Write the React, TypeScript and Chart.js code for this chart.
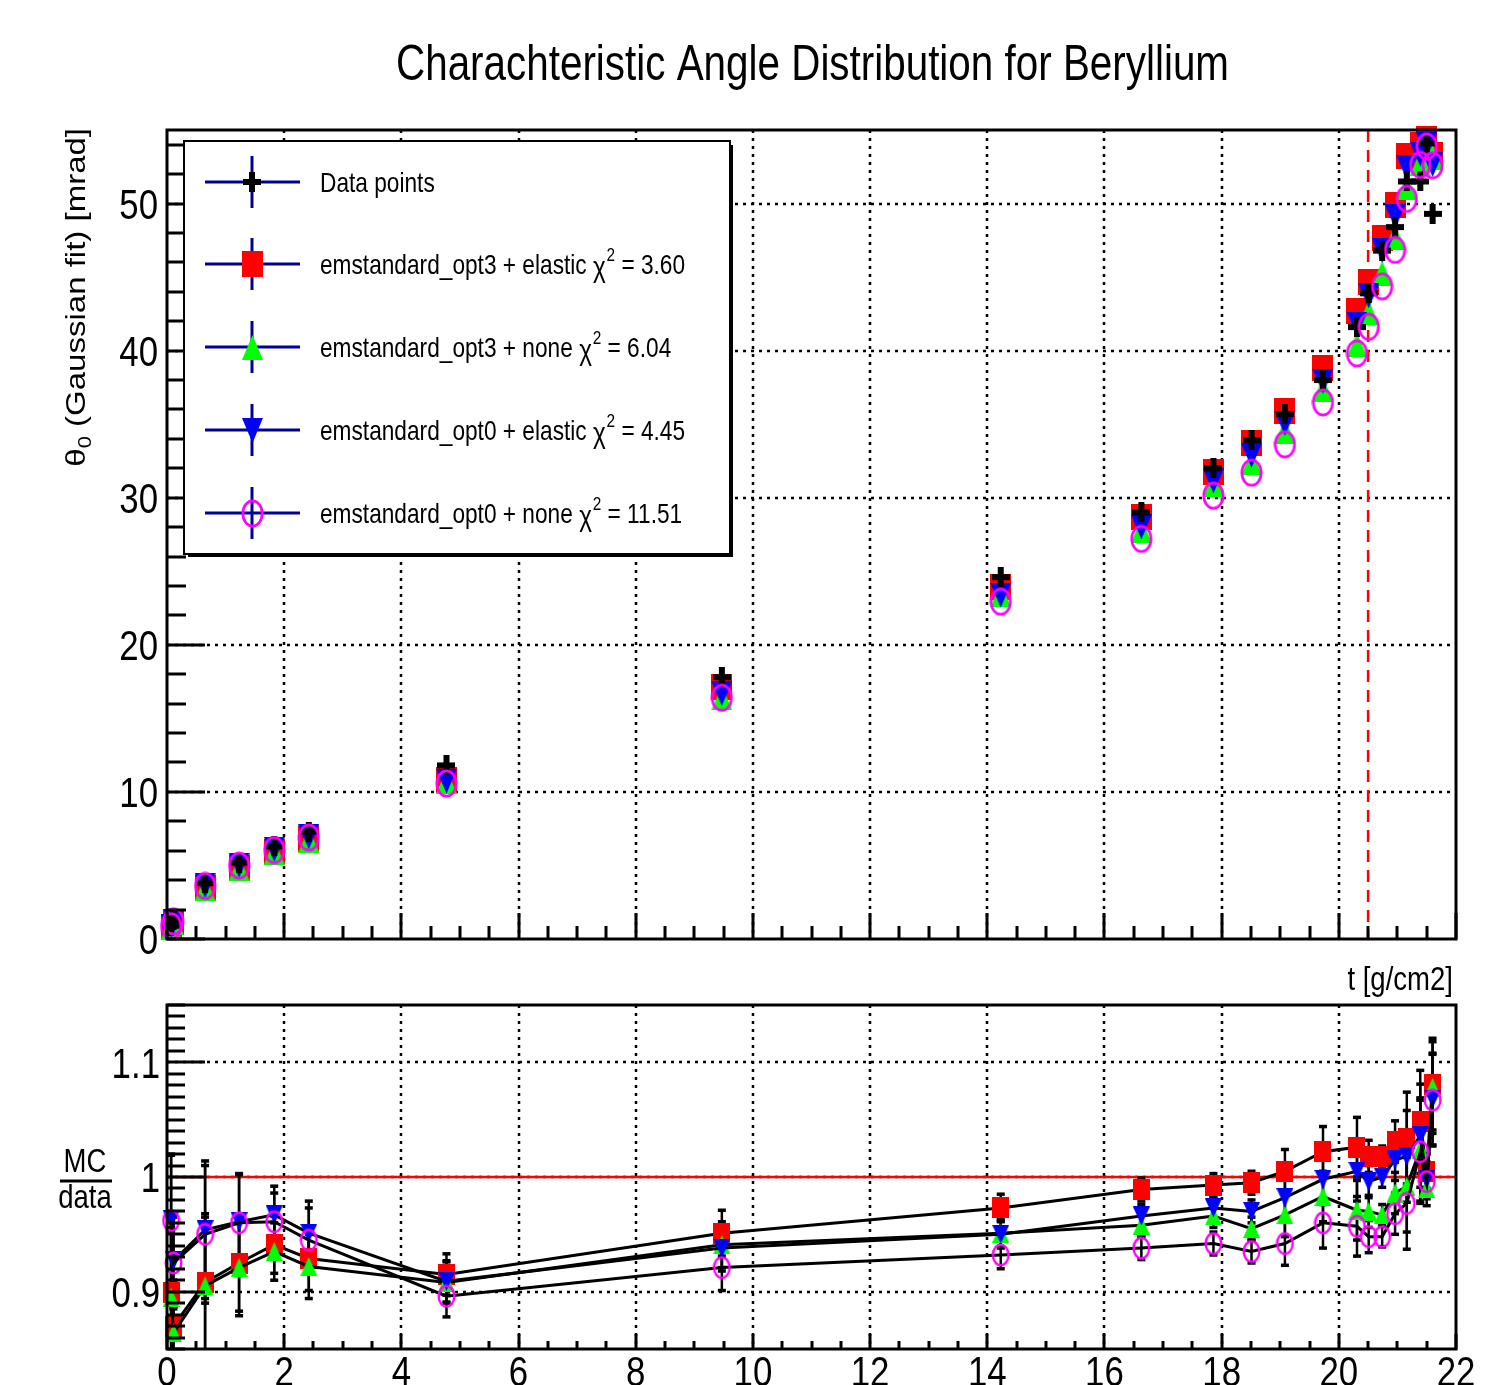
import { useEffect, useRef } from "react";
import { Chart, registerables } from "chart.js";

Chart.register(...registerables);

const FONT = '"Liberation Sans", Arial, Helvetica, sans-serif';
const SX = 0.81;

// thickness t [g/cm2]
const T = [0.07, 0.11, 0.65, 1.23, 1.83, 2.42, 4.77, 9.47, 14.23, 16.63, 17.86, 18.51, 19.08, 19.73, 20.31, 20.51, 20.74, 20.96, 21.16, 21.39, 21.5, 21.6];
// theta_0 (Gaussian fit) [mrad]
const DATA_POINTS = [0.9, 1.3, 3.8, 5.2, 6.3, 7.3, 11.8, 17.8, 24.6, 29.0, 32.0, 33.9, 35.7, 38.0, 41.6, 43.9, 46.8, 48.4, 51.5, 51.5, 54.1, 49.3];
const OPT3_ELASTIC = [0.81, 1.13, 3.45, 4.81, 5.93, 6.78, 10.8, 17.1, 23.94, 28.68, 31.78, 33.73, 35.88, 38.84, 42.68, 44.69, 47.64, 49.9, 53.25, 53.97, 54.37, 53.29];
const OPT3_NONE = [0.81, 1.12, 3.44, 4.79, 5.89, 6.73, 10.71, 16.4, 23.39, 27.78, 30.91, 32.37, 34.52, 37.35, 40.39, 42.58, 45.26, 47.72, 51.09, 52.74, 53.56, 53.15];
const OPT0_ELASTIC = [0.87, 1.21, 3.63, 5.0, 6.09, 6.94, 10.73, 16.7, 23.37, 28.01, 31.14, 32.88, 35.06, 37.92, 41.81, 43.72, 46.8, 49.13, 52.43, 53.35, 53.99, 52.65];
const OPT0_NONE = [0.87, 1.2, 3.61, 4.99, 6.05, 6.9, 10.57, 16.4, 22.93, 27.2, 30.14, 31.7, 33.63, 36.48, 39.81, 41.62, 44.37, 46.85, 50.32, 52.63, 53.88, 52.6];

// MC / data
const R_OPT3_ELASTIC = [0.899, 0.87, 0.908, 0.925, 0.941, 0.929, 0.915, 0.951, 0.973, 0.989, 0.993, 0.995, 1.005, 1.022, 1.026, 1.018, 1.018, 1.031, 1.034, 1.048, 1.005, 1.081];
const R_OPT3_NONE = [0.895, 0.864, 0.905, 0.921, 0.935, 0.922, 0.908, 0.941, 0.951, 0.958, 0.966, 0.955, 0.967, 0.983, 0.971, 0.97, 0.967, 0.986, 0.992, 1.024, 0.99, 1.078];
const R_OPT0_ELASTIC = [0.963, 0.927, 0.954, 0.961, 0.967, 0.951, 0.909, 0.938, 0.95, 0.966, 0.973, 0.97, 0.982, 0.998, 1.005, 0.996, 1.0, 1.015, 1.018, 1.036, 0.998, 1.068];
const R_OPT0_NONE = [0.962, 0.925, 0.95, 0.96, 0.961, 0.945, 0.896, 0.921, 0.932, 0.938, 0.942, 0.935, 0.942, 0.96, 0.957, 0.948, 0.948, 0.968, 0.977, 1.022, 0.996, 1.067];
const R_ERR = [0.057, 0.04, 0.06, 0.042, 0.025, 0.028, 0.018, 0.02, 0.012, 0.01, 0.01, 0.01, 0.019, 0.022, 0.026, 0.014, 0.009, 0.018, 0.04, 0.045, 0.015, 0.04];

const TITLE = "Charachteristic Angle Distribution for Beryllium";
const Y_TITLE_SYMBOL = "θ";
const Y_TITLE_SUB = "0";
const Y_TITLE_REST = " (Gaussian fit) [mrad]";
const X_TITLE = "t [g/cm2]";
const RATIO_TOP = "MC";
const RATIO_BOTTOM = "data";
const LEGEND_LABELS = ["Data points", "emstandard_opt3 + elastic ", "emstandard_opt3 + none ", "emstandard_opt0 + elastic ", "emstandard_opt0 + none "];
const LEGEND_CHI2 = ["", " = 3.60", " = 6.04", " = 4.45", " = 11.51"];
const X_TICK_VALUES = [0, 2, 4, 6, 8, 10, 12, 14, 16, 18, 20, 22];
const X_TICK_LABELS = ["0", "2", "4", "6", "8", "10", "12", "14", "16", "18", "20", "22"];
const Y_TICK_VALUES_TOP = [0, 10, 20, 30, 40, 50];
const Y_TICK_LABELS_TOP = ["0", "10", "20", "30", "40", "50"];
const Y_TICK_VALUES_RATIO = [0.9, 1, 1.1];
const Y_TICK_LABELS_RATIO = ["0.9", "1", "1.1"];
const CUT_T = 20.5;

function marker(kind: string, w: number, h: number, color: string, lw = 2.5): HTMLCanvasElement {
  const c = document.createElement("canvas");
  c.width = w;
  c.height = h;
  const g = c.getContext("2d")!;
  g.fillStyle = color;
  g.strokeStyle = color;
  if (kind === "square") g.fillRect(0, 0, w, h);
  else if (kind === "triUp" || kind === "triDown") {
    g.beginPath();
    if (kind === "triUp") {
      g.moveTo(w / 2, 0); g.lineTo(w, h); g.lineTo(0, h);
    } else {
      g.moveTo(0, 0); g.lineTo(w, 0); g.lineTo(w / 2, h);
    }
    g.closePath();
    g.fill();
  } else if (kind === "cross") {
    const t = 6;
    g.fillRect(0, (h - t) / 2, w, t);
    g.fillRect((w - t) / 2, 0, t, h);
  } else if (kind === "circle") {
    g.lineWidth = lw;
    g.beginPath();
    g.ellipse(w / 2, h / 2, w / 2 - lw / 2 - 0.5, h / 2 - lw / 2 - 0.5, 0, 0, Math.PI * 2);
    g.stroke();
  }
  return c;
}

function seg(ctx: CanvasRenderingContext2D, x1: number, y1: number, x2: number, y2: number) {
  ctx.beginPath();
  ctx.moveTo(x1, y1);
  ctx.lineTo(x2, y2);
  ctx.stroke();
}

function text(ctx: CanvasRenderingContext2D, s: string, x: number, y: number, size: number, align: CanvasTextAlign = "left", sx = SX) {
  ctx.save();
  ctx.translate(x, y);
  ctx.scale(sx, 1);
  ctx.font = `${size}px ${FONT}`;
  ctx.textAlign = align;
  ctx.textBaseline = "alphabetic";
  ctx.fillStyle = "#000";
  ctx.fillText(s, 0, 0);
  ctx.restore();
}

function frame(ctx: CanvasRenderingContext2D, a: any) {
  ctx.save();
  ctx.strokeStyle = "#000";
  ctx.lineWidth = 3;
  ctx.setLineDash([]);
  ctx.strokeRect(a.left, a.top, a.right - a.left, a.bottom - a.top);
  ctx.restore();
}

export default function App() {
  const topRef = useRef<HTMLCanvasElement>(null);
  const botRef = useRef<HTMLCanvasElement>(null);

  useEffect(() => {
    const mTop = {
      cross: marker("cross", 18, 20, "#000"),
      square: marker("square", 21, 26, "#ff0000"),
      triUp: marker("triUp", 21, 25, "#00ff00"),
      triDown: marker("triDown", 21, 25, "#0000ff"),
      circle: marker("circle", 23, 29, "#ff00ff", 2.7),
    };
    const mBot = {
      square: marker("square", 17, 21, "#ff0000"),
      triUp: marker("triUp", 17, 19, "#00ff00"),
      triDown: marker("triDown", 17, 19, "#0000ff"),
      circle: marker("circle", 19, 24, "#ff00ff", 2.4),
    };

    const pts = (ys: number[]) => T.map((x, i) => ({ x, y: ys[i] }));

    const topDecor = {
      id: "topDecor",
      beforeDatasetsDraw(chart: any) {
        const { ctx, chartArea: a, scales } = chart;
        const x = scales.x, y = scales.y;
        ctx.save();
        ctx.strokeStyle = "#000";
        ctx.lineWidth = 2.5;
        ctx.setLineDash([3, 5]);
        for (const v of X_TICK_VALUES) {
          if (v <= 0 || v >= 22) continue;
          const px = Math.round(x.getPixelForValue(v));
          seg(ctx, px, a.top, px, a.bottom);
        }
        for (const v of Y_TICK_VALUES_TOP) {
          if (v <= 0) continue;
          const py = Math.round(y.getPixelForValue(v));
          seg(ctx, a.left, py, a.right, py);
        }
        ctx.strokeStyle = "#ff0000";
        ctx.lineWidth = 2.5;
        ctx.setLineDash([12, 8]);
        const cx = x.getPixelForValue(CUT_T);
        seg(ctx, cx, a.top, cx, a.bottom);
        ctx.restore();
      },
      afterDraw(chart: any) {
        const { ctx, chartArea: a, scales } = chart;
        const x = scales.x, y = scales.y;
        frame(ctx, a);
        ctx.save();
        ctx.strokeStyle = "#000";
        ctx.lineWidth = 3;
        ctx.setLineDash([]);
        for (let k = 0; k <= 27; k++) {
          const v = 2 * k;
          const py = Math.round(y.getPixelForValue(v));
          seg(ctx, a.left, py, a.left + (v % 10 === 0 ? 38 : 19), py);
        }
        for (let k = 0; k <= 44; k++) {
          const px = Math.round(x.getPixelForValue(k * 0.5));
          seg(ctx, px, a.bottom, px, a.bottom - (k % 4 === 0 ? 26 : 13));
        }
        ctx.restore();
        Y_TICK_VALUES_TOP.forEach((v, i) => {
          const py = y.getPixelForValue(v);
          text(ctx, Y_TICK_LABELS_TOP[i], 158, py + 0.716 * 43 / 2, 43, "right");
        });
        ctx.save();
        ctx.font = `50px ${FONT}`;
        const w = ctx.measureText(TITLE).width;
        ctx.restore();
        text(ctx, TITLE, 812.5, 80, 50, "center", 833 / w);
        text(ctx, X_TITLE, 1453, 990, 34, "right");
        // y title (rotated)
        ctx.save();
        ctx.font = `33px ${FONT}`;
        const w1 = ctx.measureText(Y_TITLE_SYMBOL).width;
        const w3 = ctx.measureText(Y_TITLE_REST).width;
        ctx.font = `22px ${FONT}`;
        const w2 = ctx.measureText(Y_TITLE_SUB).width;
        const total = w1 + w2 + w3;
        ctx.translate(85, 128 + total);
        ctx.scale(SX, 1);
        ctx.rotate(-Math.PI / 2);
        ctx.fillStyle = "#000";
        ctx.textBaseline = "alphabetic";
        ctx.textAlign = "left";
        ctx.font = `33px ${FONT}`;
        ctx.fillText(Y_TITLE_SYMBOL, 0, 0);
        ctx.font = `22px ${FONT}`;
        ctx.fillText(Y_TITLE_SUB, w1, 7);
        ctx.font = `33px ${FONT}`;
        ctx.fillText(Y_TITLE_REST, w1 + w2, 0);
        ctx.restore();
        // legend
        ctx.save();
        ctx.fillStyle = "#fff";
        ctx.fillRect(183, 140, 548, 415);
        ctx.strokeStyle = "#000";
        ctx.lineWidth = 2;
        ctx.strokeRect(184, 141, 546, 413);
        ctx.fillStyle = "#000";
        ctx.fillRect(729, 145, 4, 412);
        ctx.fillRect(188, 553, 545, 4);
        const ys = [182, 264, 347, 430, 513];
        const marks = [mTop.cross, mTop.square, mTop.triUp, mTop.triDown, mTop.circle];
        ys.forEach((ly, i) => {
          ctx.strokeStyle = "#000099";
          ctx.lineWidth = 3;
          seg(ctx, 205, ly, 300, ly);
          seg(ctx, 252, ly - 26, 252, ly + 26);
          const m = marks[i];
          ctx.drawImage(m, Math.round(252 - m.width / 2), Math.round(ly - m.height / 2));
          const base = ly + 10;
          ctx.save();
          ctx.translate(320, base);
          ctx.scale(SX, 1);
          ctx.fillStyle = "#000";
          ctx.textBaseline = "alphabetic";
          ctx.textAlign = "left";
          ctx.font = `28px ${FONT}`;
          let cx = 0;
          ctx.fillText(LEGEND_LABELS[i], cx, 0);
          cx += ctx.measureText(LEGEND_LABELS[i]).width;
          if (LEGEND_CHI2[i]) {
            ctx.font = `30px ${FONT}`;
            ctx.fillText("χ", cx, 3);
            cx += ctx.measureText("χ").width + 1;
            ctx.font = `19px ${FONT}`;
            ctx.fillText("2", cx, -13);
            cx += ctx.measureText("2").width;
            ctx.font = `28px ${FONT}`;
            ctx.fillText(LEGEND_CHI2[i], cx, 0);
          }
          ctx.restore();
        });
        ctx.restore();
      },
    };

    const ratioSeries = [R_OPT3_ELASTIC, R_OPT3_NONE, R_OPT0_ELASTIC, R_OPT0_NONE];

    const botDecor = {
      id: "botDecor",
      beforeDatasetsDraw(chart: any) {
        const { ctx, chartArea: a, scales } = chart;
        const x = scales.x, y = scales.y;
        ctx.save();
        ctx.strokeStyle = "#000";
        ctx.lineWidth = 2.5;
        ctx.setLineDash([3, 5]);
        for (const v of X_TICK_VALUES) {
          if (v <= 0 || v >= 22) continue;
          const px = Math.round(x.getPixelForValue(v));
          seg(ctx, px, a.top, px, a.bottom);
        }
        for (const v of Y_TICK_VALUES_RATIO) {
          const py = Math.round(y.getPixelForValue(v));
          seg(ctx, a.left, py, a.right, py);
        }
        ctx.setLineDash([]);
        ctx.strokeStyle = "#ff0000";
        ctx.lineWidth = 2.5;
        const p1 = y.getPixelForValue(1);
        seg(ctx, a.left, p1, a.right, p1);
        ctx.beginPath();
        ctx.rect(a.left, a.top, a.right - a.left, a.bottom - a.top);
        ctx.clip();
        ctx.strokeStyle = "#000";
        for (const s of ratioSeries) {
          s.forEach((v, i) => {
            const px = x.getPixelForValue(T[i]);
            const yt = y.getPixelForValue(v + R_ERR[i]);
            const yb = y.getPixelForValue(v - R_ERR[i]);
            ctx.lineWidth = 2.5;
            seg(ctx, px, yt, px, yb);
            ctx.lineWidth = 3.5;
            seg(ctx, px - 4, yt, px + 4, yt);
            seg(ctx, px - 4, yb, px + 4, yb);
          });
        }
        ctx.restore();
      },
      afterDraw(chart: any) {
        const { ctx, chartArea: a, scales } = chart;
        const x = scales.x, y = scales.y;
        frame(ctx, a);
        ctx.save();
        ctx.strokeStyle = "#000";
        ctx.lineWidth = 3;
        for (let k = 85; k <= 115; k++) {
          const py = Math.round(y.getPixelForValue(k / 100));
          seg(ctx, a.left, py, a.left + (k % 10 === 0 ? 38 : 18), py);
        }
        for (let k = 0; k <= 44; k++) {
          const px = Math.round(x.getPixelForValue(k * 0.5));
          seg(ctx, px, a.bottom, px, a.bottom - (k % 4 === 0 ? 15 : 8));
        }
        ctx.restore();
        Y_TICK_VALUES_RATIO.forEach((v, i) => {
          const py = y.getPixelForValue(v);
          text(ctx, Y_TICK_LABELS_RATIO[i], 160, py + 0.716 * 43 / 2, 43, "right");
        });
        X_TICK_VALUES.forEach((v, i) => {
          const px = x.getPixelForValue(v);
          text(ctx, X_TICK_LABELS[i], px, 386, 43, "center");
        });
        text(ctx, RATIO_TOP, 85, 172, 34, "center");
        ctx.save();
        ctx.strokeStyle = "#000";
        ctx.lineWidth = 3;
        seg(ctx, 60, 181, 112, 181);
        ctx.restore();
        text(ctx, RATIO_BOTTOM, 85, 208, 34, "center");
      },
    };

    const common = {
      responsive: false,
      animation: false as const,
      devicePixelRatio: 1,
      events: [] as any[],
      plugins: { legend: { display: false }, tooltip: { enabled: false }, title: { display: false } },
    };

    const topChart = new Chart(topRef.current!, {
      type: "scatter",
      data: {
        datasets: [
          { label: "emstandard_opt3 + elastic", data: pts(OPT3_ELASTIC), pointStyle: mTop.square, order: 5 },
          { label: "emstandard_opt3 + none", data: pts(OPT3_NONE), pointStyle: mTop.triUp, order: 4 },
          { label: "emstandard_opt0 + elastic", data: pts(OPT0_ELASTIC), pointStyle: mTop.triDown, order: 3 },
          { label: "Data points", data: pts(DATA_POINTS), pointStyle: mTop.cross, order: 2 },
          { label: "emstandard_opt0 + none", data: pts(OPT0_NONE), pointStyle: mTop.circle, order: 1 },
        ].map((d) => ({ ...d, pointRadius: 1, pointHoverRadius: 1, pointBorderWidth: 0, showLine: false, clip: false as any })),
      },
      options: {
        ...common,
        layout: { padding: { left: 167, right: 53, top: 130, bottom: 61 } },
        scales: {
          x: { type: "linear", min: 0, max: 22, display: false },
          y: { type: "linear", min: 0, max: 55, display: false },
        },
      } as any,
      plugins: [topDecor],
    });

    const botChart = new Chart(botRef.current!, {
      type: "scatter",
      data: {
        datasets: [
          { label: "emstandard_opt3 + elastic", data: pts(R_OPT3_ELASTIC), pointStyle: mBot.square, order: 4 },
          { label: "emstandard_opt3 + none", data: pts(R_OPT3_NONE), pointStyle: mBot.triUp, order: 3 },
          { label: "emstandard_opt0 + elastic", data: pts(R_OPT0_ELASTIC), pointStyle: mBot.triDown, order: 2 },
          { label: "emstandard_opt0 + none", data: pts(R_OPT0_NONE), pointStyle: mBot.circle, order: 1 },
        ].map((d) => ({
          ...d,
          pointRadius: 1,
          pointHoverRadius: 1,
          pointBorderWidth: 0,
          showLine: true,
          borderColor: "#000",
          borderWidth: 3,
          tension: 0,
          clip: false as any,
        })),
      },
      options: {
        ...common,
        layout: { padding: { left: 167, right: 53, top: 5, bottom: 36 } },
        scales: {
          x: { type: "linear", min: 0, max: 22, display: false },
          y: { type: "linear", min: 0.85, max: 1.15, display: false },
        },
      } as any,
      plugins: [botDecor],
    });

    return () => {
      topChart.destroy();
      botChart.destroy();
    };
  }, []);

  return (
    <div style={{ position: "absolute", left: 0, top: 0, width: 1509, height: 1385, background: "#fff", overflow: "hidden" }}>
      <canvas ref={topRef} width={1509} height={1000} style={{ position: "absolute", left: 0, top: 0 }} />
      <canvas ref={botRef} width={1509} height={385} style={{ position: "absolute", left: 0, top: 1000 }} />
    </div>
  );
}
